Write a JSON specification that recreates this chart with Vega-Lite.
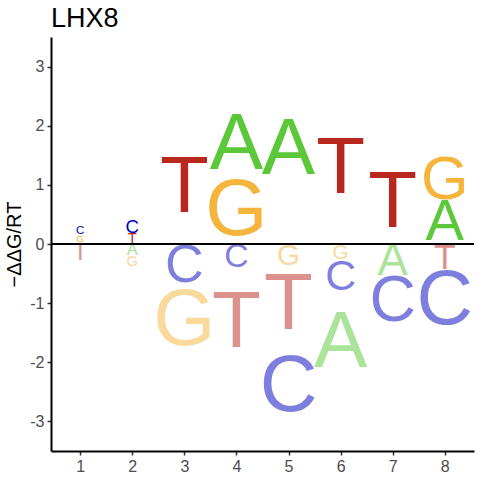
{
  "$schema": "https://vega.github.io/schema/vega-lite/v6.json",
  "width": 423,
  "height": 414,
  "autosize": "none",
  "padding": {"left": 51, "top": 37, "right": 6, "bottom": 29},
  "background": "white",
  "title": {
    "text": "LHX8",
    "anchor": "start",
    "frame": "group",
    "font": "Liberation Sans",
    "fontSize": 27,
    "fontWeight": "normal",
    "color": "black",
    "offset": 4
  },
  "data": {
    "values": [
      {"pos": 1, "base": "A", "mid": 0.01, "h": 0.02, "sign": "pos"},
      {"pos": 1, "base": "G", "mid": 0.08, "h": 0.12, "sign": "pos"},
      {"pos": 1, "base": "C", "mid": 0.22, "h": 0.14, "sign": "pos"},
      {"pos": 1, "base": "T", "mid": -0.145, "h": 0.29, "sign": "neg"},
      {"pos": 2, "base": "T", "mid": 0.09, "h": 0.18, "sign": "pos"},
      {"pos": 2, "base": "C", "mid": 0.29, "h": 0.225, "sign": "pos"},
      {"pos": 2, "base": "A", "mid": -0.1, "h": 0.2, "sign": "neg"},
      {"pos": 2, "base": "G", "mid": -0.31, "h": 0.18, "sign": "neg"},
      {"pos": 3, "base": "T", "mid": 0.955, "h": 1.91, "sign": "pos"},
      {"pos": 3, "base": "A", "mid": -0.02, "h": 0.04, "sign": "neg"},
      {"pos": 3, "base": "C", "mid": -0.365, "h": 0.65, "sign": "neg"},
      {"pos": 3, "base": "G", "mid": -1.305, "h": 1.19, "sign": "neg"},
      {"pos": 4, "base": "G", "mid": 0.555, "h": 1.11, "sign": "pos"},
      {"pos": 4, "base": "A", "mid": 1.675, "h": 1.11, "sign": "pos"},
      {"pos": 4, "base": "C", "mid": -0.225, "h": 0.41, "sign": "neg"},
      {"pos": 4, "base": "T", "mid": -1.33, "h": 1.78, "sign": "neg"},
      {"pos": 5, "base": "A", "mid": 1.59, "h": 3.18, "sign": "pos"},
      {"pos": 5, "base": "G", "mid": -0.2, "h": 0.36, "sign": "neg"},
      {"pos": 5, "base": "T", "mid": -1.03, "h": 1.28, "sign": "neg"},
      {"pos": 5, "base": "C", "mid": -2.42, "h": 1.5, "sign": "neg"},
      {"pos": 6, "base": "T", "mid": 1.265, "h": 2.53, "sign": "pos"},
      {"pos": 6, "base": "G", "mid": -0.145, "h": 0.25, "sign": "neg"},
      {"pos": 6, "base": "C", "mid": -0.56, "h": 0.52, "sign": "neg"},
      {"pos": 6, "base": "A", "mid": -1.675, "h": 1.69, "sign": "neg"},
      {"pos": 7, "base": "T", "mid": 0.695, "h": 1.39, "sign": "pos"},
      {"pos": 7, "base": "A", "mid": -0.295, "h": 0.55, "sign": "neg"},
      {"pos": 7, "base": "C", "mid": -0.98, "h": 0.78, "sign": "neg"},
      {"pos": 8, "base": "A", "mid": 0.35, "h": 0.7, "sign": "pos"},
      {"pos": 8, "base": "G", "mid": 1.07, "h": 0.74, "sign": "pos"},
      {"pos": 8, "base": "T", "mid": -0.235, "h": 0.43, "sign": "neg"},
      {"pos": 8, "base": "C", "mid": -0.945, "h": 0.95, "sign": "neg"}
    ]
  },
  "config": {
    "view": {"stroke": null},
    "font": "Liberation Sans",
    "axis": {
      "grid": false,
      "domainColor": "black",
      "domainWidth": 2,
      "tickColor": "#333333",
      "tickWidth": 1.5,
      "tickSize": 4,
      "labelPadding": 3,
      "labelFont": "Liberation Sans",
      "labelFontSize": 16,
      "labelColor": "#4d4d4d",
      "titleFont": "Liberation Sans",
      "titleFontWeight": "normal",
      "titleColor": "black"
    }
  },
  "layer": [
    {
      "mark": {"type": "text", "baseline": "middle", "align": "center", "font": "Liberation Sans"},
      "encoding": {
        "x": {
          "field": "pos",
          "type": "quantitative",
          "scale": {"domain": [0.44, 8.56], "nice": false, "zero": false},
          "axis": {"title": null, "values": [1, 2, 3, 4, 5, 6, 7, 8], "labelExpr": "'' + datum.value", "labelFlush": false}
        },
        "y": {
          "field": "mid",
          "type": "quantitative",
          "scale": {"domain": [-3.5, 3.5], "nice": false},
          "axis": {
            "title": "−ΔΔG/RT",
            "titleFontSize": 20,
            "titleBaseline": "alphabetic",
            "titleX": -31,
            "titleY": 207,
            "values": [-3, -2, -1, 0, 1, 2, 3],
            "labelExpr": "'' + datum.value",
            "labelFlush": false
          }
        },
        "text": {"field": "base"},
        "size": {
          "field": "h",
          "type": "quantitative",
          "scale": {"domain": [0, 0.97], "range": [0, 80], "clamp": true, "zero": true},
          "legend": null
        },
        "color": {
          "field": "base",
          "type": "nominal",
          "scale": {"domain": ["A", "C", "G", "T"], "range": ["#5bc83a", "#0000c0", "#f5b43c", "#b8281e"]},
          "legend": null
        },
        "opacity": {
          "field": "sign",
          "type": "nominal",
          "scale": {"domain": ["pos", "neg"], "range": [1, 0.5]},
          "legend": null
        }
      }
    },
    {
      "mark": {"type": "rule", "color": "black", "strokeWidth": 1.2},
      "encoding": {"y": {"datum": 0}}
    }
  ]
}
